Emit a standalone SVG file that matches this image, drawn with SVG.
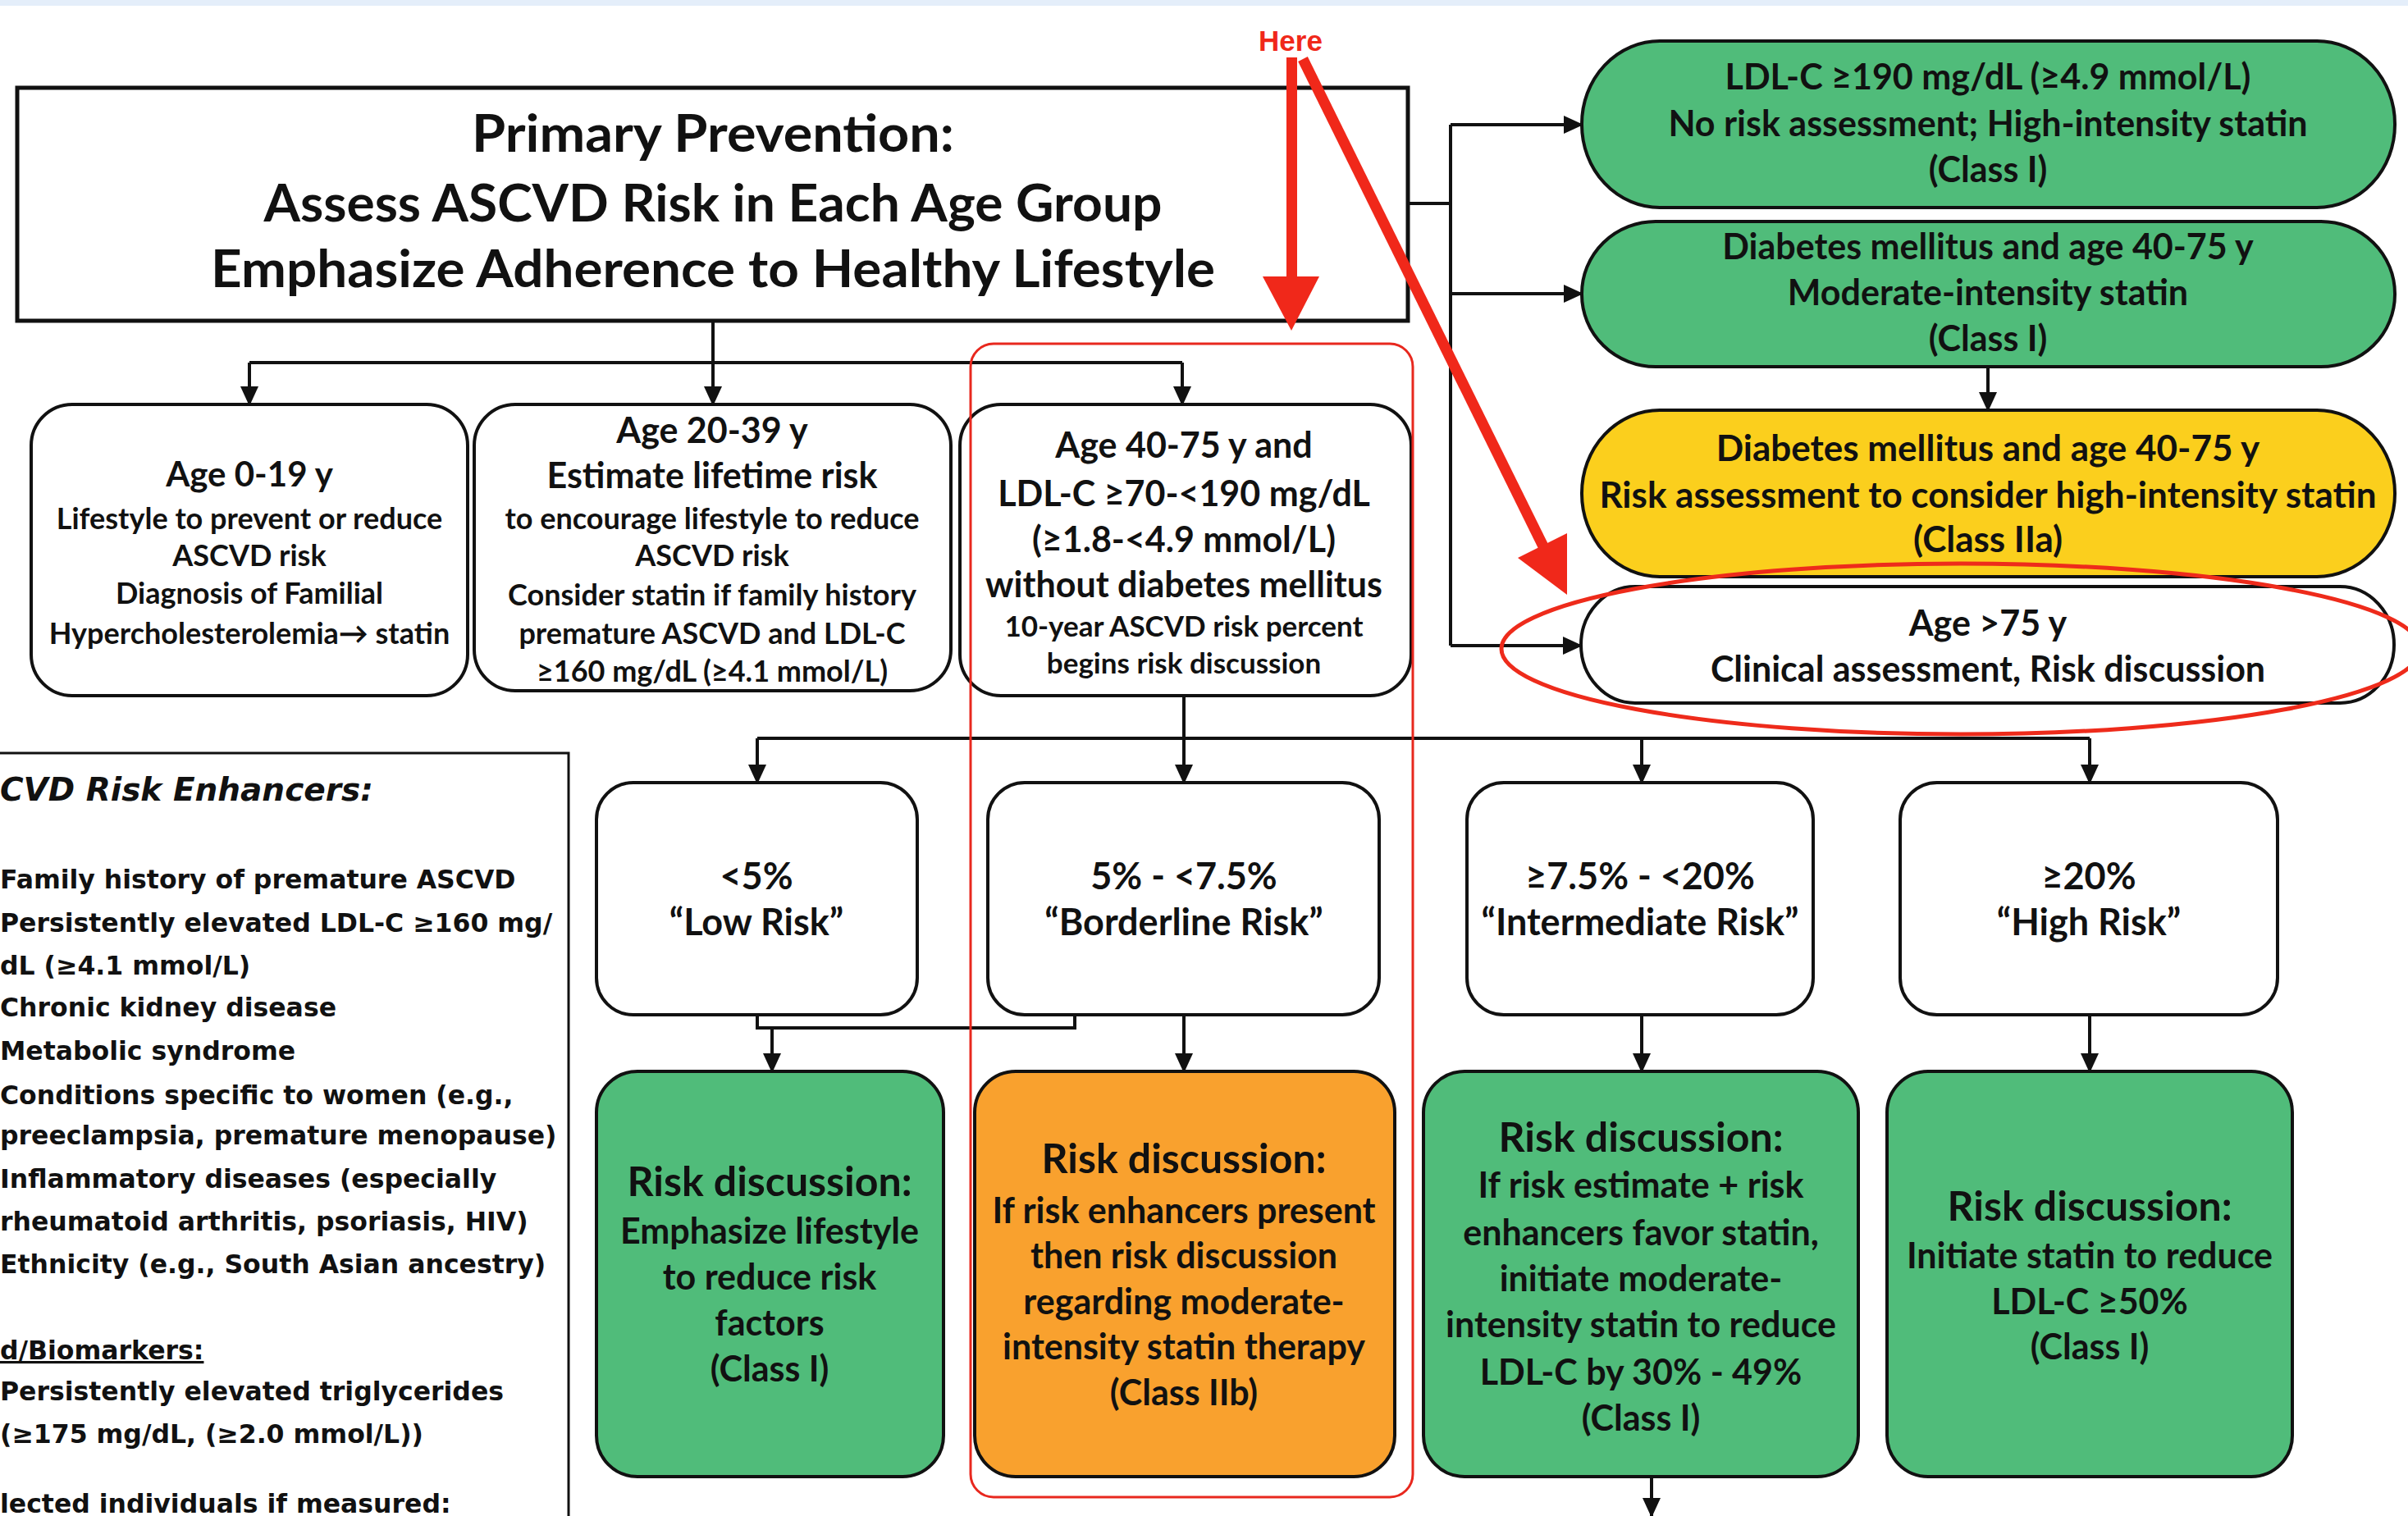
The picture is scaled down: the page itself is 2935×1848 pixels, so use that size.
<svg xmlns="http://www.w3.org/2000/svg" width="2935" height="1848" viewBox="0 0 2935 1848">
<style>
.t{font-family:Lato,"Liberation Sans","DejaVu Sans",sans-serif;font-weight:bold;fill:#111;text-anchor:middle}
.e{font-family:"DejaVu Sans","Liberation Sans",sans-serif;font-weight:bold;fill:#111;font-size:31.5px}
.eh{font-family:"DejaVu Sans","Liberation Sans",sans-serif;font-weight:bold;font-style:italic;fill:#111;font-size:39px}
.box{fill:#fff;stroke:#111;stroke-width:4}
.grn{fill:#50bc7a;stroke:#111;stroke-width:4}
.org{fill:#f9a12e;stroke:#111;stroke-width:4}
.yel{fill:#fbcf1d;stroke:#111;stroke-width:4}
.c{fill:none;stroke:#111;stroke-width:4}
.ca{fill:none;stroke:#111;stroke-width:4;marker-end:url(#ah)}
.red{fill:#f0281a;stroke:none}
</style>
<defs>
<marker id="ah" markerWidth="24" markerHeight="22" refX="22" refY="11" orient="auto" markerUnits="userSpaceOnUse"><path d="M0,0 L24,11 L0,22 z" fill="#111"/></marker>
</defs>
<rect x="0" y="0" width="2935" height="1848" fill="#fff"/>
<rect x="0" y="0" width="2935" height="7" fill="#e4eefa"/>

<g id="main">
<rect x="21" y="107" width="1695" height="284" fill="#fff" stroke="#111" stroke-width="5"/>
<text class="t" font-size="63" font-weight="800" x="869" y="185" textLength="588" lengthAdjust="spacingAndGlyphs">Primary Prevention:</text>
<text class="t" font-size="63" font-weight="800" x="869" y="270" textLength="1095" lengthAdjust="spacingAndGlyphs">Assess ASCVD Risk in Each Age Group</text>
<text class="t" font-size="63" font-weight="800" x="869" y="350" textLength="1224" lengthAdjust="spacingAndGlyphs">Emphasize Adherence to Healthy Lifestyle</text>
</g>

<g id="ldl190">
<rect x="1928" y="50" width="991" height="203" rx="95" ry="101" class="grn"/>
<text class="t" font-size="43"><tspan x="2423" y="109">LDL-C ≥190 mg/dL (≥4.9 mmol/L)</tspan><tspan x="2423" y="166">No risk assessment; High-intensity statin</tspan><tspan x="2423" y="222">(Class I)</tspan></text>
</g>
<g id="diabetes">
<rect x="1928" y="270" width="991" height="177" rx="90" ry="88" class="grn"/>
<text class="t" font-size="43"><tspan x="2423" y="316">Diabetes mellitus and age 40-75 y</tspan><tspan x="2423" y="372">Moderate-intensity statin</tspan><tspan x="2423" y="428">(Class I)</tspan></text>
</g>
<g id="diabetes-risk">
<rect x="1928" y="500" width="991" height="203" rx="95" ry="101" class="yel"/>
<text class="t" font-size="44"><tspan x="2423" y="562">Diabetes mellitus and age 40-75 y</tspan><tspan x="2423" y="619">Risk assessment to consider high-intensity statin</tspan><tspan x="2423" y="673">(Class IIa)</tspan></text>
</g>
<g id="age75">
<rect x="1927" y="715" width="991" height="142" rx="66" ry="71" class="box"/>
<text class="t" font-size="43"><tspan x="2423" y="775">Age &gt;75 y</tspan><tspan x="2423" y="831">Clinical assessment, Risk discussion</tspan></text>
</g>

<g id="age0-19">
<rect x="38" y="493" width="532" height="355" rx="50" class="box"/>
<text class="t" font-size="42" x="304" y="593">Age 0-19 y</text>
<text class="t" font-size="36"><tspan x="304" y="645">Lifestyle to prevent or reduce</tspan><tspan x="304" y="690">ASCVD risk</tspan><tspan x="304" y="736">Diagnosis of Familial</tspan><tspan x="304" y="785">Hypercholesterolemia→ statin</tspan></text>
</g>
<g id="age20-39">
<rect x="578" y="493" width="581" height="349" rx="50" class="box"/>
<text class="t" font-size="43"><tspan x="868" y="540">Age 20-39 y</tspan><tspan x="868" y="595">Estimate lifetime risk</tspan></text>
<text class="t" font-size="36"><tspan x="868" y="645">to encourage lifestyle to reduce</tspan><tspan x="868" y="690">ASCVD risk</tspan><tspan x="868" y="738">Consider statin if family history</tspan><tspan x="868" y="785">premature ASCVD and LDL-C</tspan><tspan x="868" y="831">≥160 mg/dL (≥4.1 mmol/L)</tspan></text>
</g>
<g id="age40-75">
<rect x="1170" y="493" width="550" height="355" rx="50" class="box"/>
<text class="t" font-size="43"><tspan x="1443" y="558">Age 40-75 y and</tspan><tspan x="1443" y="617">LDL-C ≥70-&lt;190 mg/dL</tspan><tspan x="1443" y="673">(≥1.8-&lt;4.9 mmol/L)</tspan><tspan x="1443" y="728">without diabetes mellitus</tspan></text>
<text class="t" font-size="35"><tspan x="1443" y="776">10-year ASCVD risk percent</tspan><tspan x="1443" y="821">begins risk discussion</tspan></text>
</g>

<g id="enhancers">
<rect x="-10" y="918" width="703" height="1000" fill="#fff" stroke="#111" stroke-width="3"/>
<text class="eh" x="0" y="976">CVD Risk Enhancers:</text>
<text class="e"><tspan x="0" y="1083">Family history of premature ASCVD</tspan><tspan x="0" y="1136">Persistently elevated LDL-C ≥160 mg/</tspan><tspan x="0" y="1188">dL (≥4.1 mmol/L)</tspan><tspan x="0" y="1239">Chronic kidney disease</tspan><tspan x="0" y="1292">Metabolic syndrome</tspan><tspan x="0" y="1346">Conditions specific to women (e.g.,</tspan><tspan x="0" y="1395">preeclampsia, premature menopause)</tspan><tspan x="0" y="1448">Inflammatory diseases (especially</tspan><tspan x="0" y="1500">rheumatoid arthritis, psoriasis, HIV)</tspan><tspan x="0" y="1552">Ethnicity (e.g., South Asian ancestry)</tspan></text>
<text class="e" x="0" y="1657" text-decoration="underline">d/Biomarkers:</text>
<text class="e"><tspan x="0" y="1707">Persistently elevated triglycerides</tspan><tspan x="0" y="1759">(≥175 mg/dL,  (≥2.0 mmol/L))</tspan><tspan x="0" y="1844">lected individuals if measured:</tspan></text>
</g>

<g id="low">
<rect x="727" y="954" width="391" height="283" rx="45" class="box"/>
<text class="t" font-size="45"><tspan x="922" y="1084">&lt;5%</tspan><tspan x="922" y="1140">“Low Risk”</tspan></text>
</g>
<g id="borderline">
<rect x="1204" y="954" width="477" height="283" rx="45" class="box"/>
<text class="t" font-size="45"><tspan x="1443" y="1084">5% - &lt;7.5%</tspan><tspan x="1443" y="1140">“Borderline Risk”</tspan></text>
</g>
<g id="intermediate">
<rect x="1788" y="954" width="422" height="283" rx="45" class="box"/>
<text class="t" font-size="45"><tspan x="1999" y="1084">≥7.5% - &lt;20%</tspan><tspan x="1999" y="1140">“Intermediate Risk”</tspan></text>
</g>
<g id="high">
<rect x="2316" y="954" width="460" height="283" rx="45" class="box"/>
<text class="t" font-size="45"><tspan x="2546" y="1084">≥20%</tspan><tspan x="2546" y="1140">“High Risk”</tspan></text>
</g>

<g id="rd-low">
<rect x="727" y="1306" width="423" height="494" rx="50" class="grn"/>
<text class="t" font-size="50" x="938" y="1458">Risk discussion:</text>
<text class="t" font-size="43"><tspan x="938" y="1516">Emphasize lifestyle</tspan><tspan x="938" y="1572">to reduce risk</tspan><tspan x="938" y="1628">factors</tspan><tspan x="938" y="1684">(Class I)</tspan></text>
</g>
<g id="rd-borderline">
<rect x="1188" y="1306" width="512" height="494" rx="50" class="org"/>
<text class="t" font-size="50" x="1443" y="1430">Risk discussion:</text>
<text class="t" font-size="43"><tspan x="1443" y="1491">If risk enhancers present</tspan><tspan x="1443" y="1546">then risk discussion</tspan><tspan x="1443" y="1602">regarding moderate-</tspan><tspan x="1443" y="1657">intensity statin therapy</tspan><tspan x="1443" y="1713">(Class IIb)</tspan></text>
</g>
<g id="rd-intermediate">
<rect x="1735" y="1306" width="530" height="494" rx="50" class="grn"/>
<text class="t" font-size="50" x="2000" y="1404">Risk discussion:</text>
<text class="t" font-size="43"><tspan x="2000" y="1460">If risk estimate + risk</tspan><tspan x="2000" y="1518">enhancers favor statin,</tspan><tspan x="2000" y="1574">initiate moderate-</tspan><tspan x="2000" y="1630">intensity statin to reduce</tspan><tspan x="2000" y="1688">LDL-C by 30% - 49%</tspan><tspan x="2000" y="1744">(Class I)</tspan></text>
</g>
<g id="rd-high">
<rect x="2300" y="1306" width="494" height="494" rx="50" class="grn"/>
<text class="t" font-size="50" x="2547" y="1488">Risk discussion:</text>
<text class="t" font-size="43"><tspan x="2547" y="1546">Initiate statin to reduce</tspan><tspan x="2547" y="1602">LDL-C ≥50%</tspan><tspan x="2547" y="1657">(Class I)</tspan></text>
</g>

<g id="connectors">
<path class="ca" d="M869,391 V493"/>
<path class="c" d="M304,442 H1441"/>
<path class="ca" d="M304,442 V493"/>
<path class="ca" d="M1441,442 V493"/>
<path class="c" d="M1716,248 H1768"/>
<path class="c" d="M1768,152 V787"/>
<path class="ca" d="M1768,152 H1928"/>
<path class="ca" d="M1768,358 H1928"/>
<path class="ca" d="M1768,787 H1927"/>
<path class="ca" d="M2423,447 V500"/>
<path class="ca" d="M1443,848 V954"/>
<path class="c" d="M923,900 H2547"/>
<path class="ca" d="M923,900 V954"/>
<path class="ca" d="M2001,900 V954"/>
<path class="ca" d="M2547,900 V954"/>
<path class="c" d="M923,1237 V1253 H1310 V1237"/>
<path class="ca" d="M941,1253 V1306"/>
<path class="ca" d="M1443,1237 V1306"/>
<path class="ca" d="M2001,1237 V1306"/>
<path class="ca" d="M2547,1237 V1306"/>
<path class="ca" d="M2013,1800 V1848"/>
</g>

<g id="annotations">
<rect x="1183" y="419" width="539" height="1406" rx="28" fill="none" stroke="#e8281e" stroke-width="3"/>
<ellipse cx="2390" cy="791" rx="560" ry="104" fill="none" stroke="#ee2b1b" stroke-width="5"/>
<text x="1573" y="62" font-family="'Liberation Sans',Arial,sans-serif" font-weight="bold" font-size="35" fill="#f0281a" text-anchor="middle">Here</text>
<rect class="red" x="1568" y="70" width="13" height="270"/>
<polygon class="red" points="1539,337 1608,337 1574,403"/>
<line x1="1588" y1="72" x2="1882" y2="668" stroke="#f0281a" stroke-width="13"/>
<polygon class="red" points="1850,680 1910,650 1910,725"/>
</g>
</svg>
